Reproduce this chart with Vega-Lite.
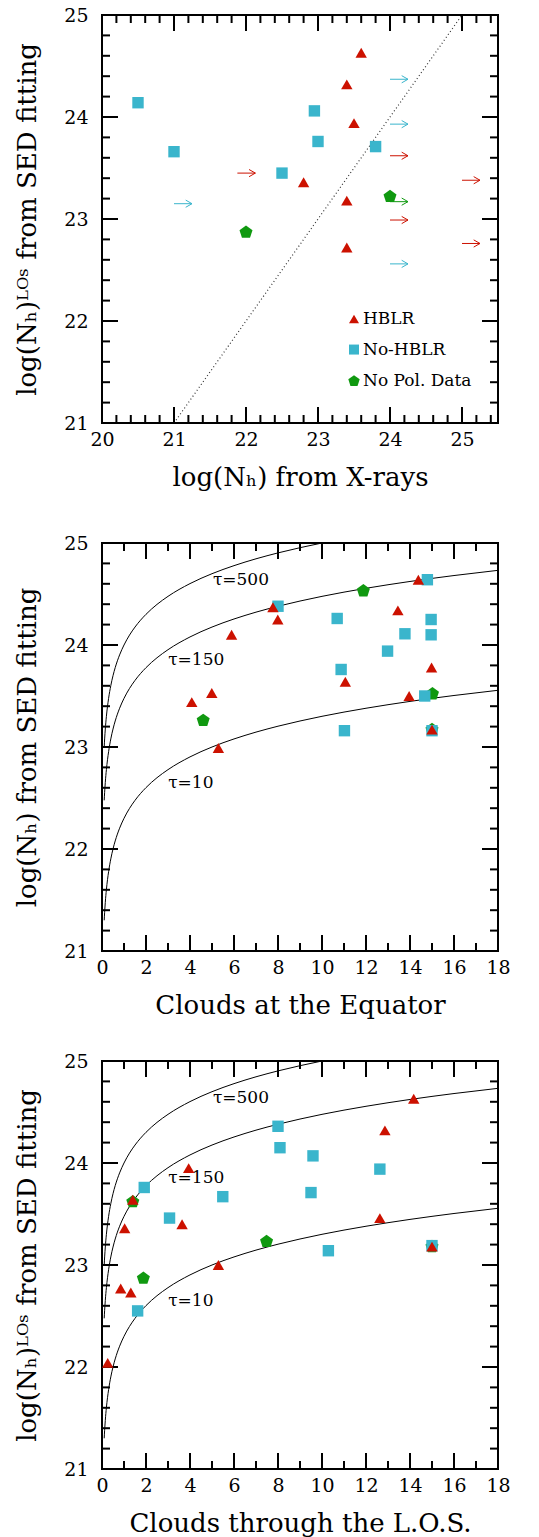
{
  "$schema": "https://vega.github.io/schema/vega-lite/v6.json",
  "background": "white",
  "padding": {"left": 13, "top": 5, "right": 20, "bottom": 5},
  "spacing": 42,
  "config": {
    "view": {"stroke": "#000", "strokeWidth": 2},
    "tick": {"thickness": 2, "opacity": 1, "color": "#000"},
    "axis": {"domain": false, "ticks": false, "grid": false, "labelFont": "DejaVu Serif", "labelFontSize": 19, "labelColor": "#000", "titleFont": "DejaVu Serif", "titleFontSize": 26, "titleFontWeight": "normal", "titleColor": "#000", "labelFlush": false, "labelOverlap": false, "labelBound": false}
  },
  "datasets": {
    "p1": [
      {"x": 22.0, "y": 22.87, "g": "No Pol. Data"},
      {"x": 24.0, "y": 23.22, "g": "No Pol. Data"},
      {"x": 20.5, "y": 24.14, "g": "No-HBLR"},
      {"x": 21.0, "y": 23.66, "g": "No-HBLR"},
      {"x": 22.5, "y": 23.45, "g": "No-HBLR"},
      {"x": 22.95, "y": 24.06, "g": "No-HBLR"},
      {"x": 23.0, "y": 23.76, "g": "No-HBLR"},
      {"x": 23.8, "y": 23.71, "g": "No-HBLR"},
      {"x": 23.6, "y": 24.63, "g": "HBLR"},
      {"x": 23.4, "y": 24.32, "g": "HBLR"},
      {"x": 23.5, "y": 23.94, "g": "HBLR"},
      {"x": 22.8, "y": 23.36, "g": "HBLR"},
      {"x": 23.4, "y": 23.18, "g": "HBLR"},
      {"x": 23.4, "y": 22.72, "g": "HBLR"}
    ],
    "legend1": [
      {"x": 23.5, "y": 22.02, "g": "HBLR"},
      {"x": 23.5, "y": 21.72, "g": "No-HBLR"},
      {"x": 23.5, "y": 21.41, "g": "No Pol. Data"}
    ],
    "arrows": [
      {"x": 24.0, "y": 24.37, "g": "No-HBLR"},
      {"x": 24.0, "y": 23.93, "g": "No-HBLR"},
      {"x": 21.0, "y": 23.15, "g": "No-HBLR"},
      {"x": 24.0, "y": 22.56, "g": "No-HBLR"},
      {"x": 24.0, "y": 23.62, "g": "HBLR"},
      {"x": 25.0, "y": 23.38, "g": "HBLR"},
      {"x": 24.0, "y": 22.99, "g": "HBLR"},
      {"x": 25.0, "y": 22.76, "g": "HBLR"},
      {"x": 21.88, "y": 23.45, "g": "HBLR"},
      {"x": 24.0, "y": 23.17, "g": "No Pol. Data"}
    ],
    "xt1maj": [{"v": 21}, {"v": 22}, {"v": 23}, {"v": 24}, {"v": 25}],
    "xt1min": [{"v": 20.2}, {"v": 20.4}, {"v": 20.6}, {"v": 20.8}, {"v": 21.2}, {"v": 21.4}, {"v": 21.6}, {"v": 21.8}, {"v": 22.2}, {"v": 22.4}, {"v": 22.6}, {"v": 22.8}, {"v": 23.2}, {"v": 23.4}, {"v": 23.6}, {"v": 23.8}, {"v": 24.2}, {"v": 24.4}, {"v": 24.6}, {"v": 24.8}, {"v": 25.2}, {"v": 25.4}],
    "ytmaj": [{"v": 22}, {"v": 23}, {"v": 24}],
    "ytmin": [{"v": 21.2}, {"v": 21.4}, {"v": 21.6}, {"v": 21.8}, {"v": 22.2}, {"v": 22.4}, {"v": 22.6}, {"v": 22.8}, {"v": 23.2}, {"v": 23.4}, {"v": 23.6}, {"v": 23.8}, {"v": 24.2}, {"v": 24.4}, {"v": 24.6}, {"v": 24.8}],
    "xt2maj": [{"v": 2}, {"v": 4}, {"v": 6}, {"v": 8}, {"v": 10}, {"v": 12}, {"v": 14}, {"v": 16}],
    "xt2min": [{"v": 1}, {"v": 3}, {"v": 5}, {"v": 7}, {"v": 9}, {"v": 11}, {"v": 13}, {"v": 15}, {"v": 17}],
    "p2": [
      {"x": 11.88, "y": 24.53, "g": "No Pol. Data"},
      {"x": 15.02, "y": 23.52, "g": "No Pol. Data"},
      {"x": 4.6, "y": 23.26, "g": "No Pol. Data"},
      {"x": 15.0, "y": 23.17, "g": "No Pol. Data"},
      {"x": 14.79, "y": 24.64, "g": "No-HBLR"},
      {"x": 8.0, "y": 24.38, "g": "No-HBLR"},
      {"x": 10.69, "y": 24.26, "g": "No-HBLR"},
      {"x": 14.96, "y": 24.25, "g": "No-HBLR"},
      {"x": 13.77, "y": 24.11, "g": "No-HBLR"},
      {"x": 14.96, "y": 24.10, "g": "No-HBLR"},
      {"x": 12.98, "y": 23.94, "g": "No-HBLR"},
      {"x": 10.87, "y": 23.76, "g": "No-HBLR"},
      {"x": 14.67, "y": 23.50, "g": "No-HBLR"},
      {"x": 11.02, "y": 23.16, "g": "No-HBLR"},
      {"x": 15.0, "y": 23.16, "g": "No-HBLR"},
      {"x": 14.38, "y": 24.64, "g": "HBLR"},
      {"x": 7.77, "y": 24.37, "g": "HBLR"},
      {"x": 7.99, "y": 24.25, "g": "HBLR"},
      {"x": 5.89, "y": 24.10, "g": "HBLR"},
      {"x": 13.45, "y": 24.34, "g": "HBLR"},
      {"x": 14.98, "y": 23.78, "g": "HBLR"},
      {"x": 11.06, "y": 23.64, "g": "HBLR"},
      {"x": 13.96, "y": 23.50, "g": "HBLR"},
      {"x": 4.99, "y": 23.53, "g": "HBLR"},
      {"x": 4.08, "y": 23.44, "g": "HBLR"},
      {"x": 5.29, "y": 22.99, "g": "HBLR"},
      {"x": 15.0, "y": 23.17, "g": "HBLR"}
    ],
    "p3": [
      {"x": 1.40, "y": 23.62, "g": "No Pol. Data"},
      {"x": 7.48, "y": 23.23, "g": "No Pol. Data"},
      {"x": 1.88, "y": 22.87, "g": "No Pol. Data"},
      {"x": 15.0, "y": 23.18, "g": "No Pol. Data"},
      {"x": 1.92, "y": 23.76, "g": "No-HBLR"},
      {"x": 3.07, "y": 23.46, "g": "No-HBLR"},
      {"x": 5.49, "y": 23.67, "g": "No-HBLR"},
      {"x": 8.0, "y": 24.36, "g": "No-HBLR"},
      {"x": 8.09, "y": 24.15, "g": "No-HBLR"},
      {"x": 9.59, "y": 24.07, "g": "No-HBLR"},
      {"x": 9.50, "y": 23.71, "g": "No-HBLR"},
      {"x": 12.63, "y": 23.94, "g": "No-HBLR"},
      {"x": 10.29, "y": 23.14, "g": "No-HBLR"},
      {"x": 15.0, "y": 23.19, "g": "No-HBLR"},
      {"x": 1.62, "y": 22.55, "g": "No-HBLR"},
      {"x": 14.17, "y": 24.63, "g": "HBLR"},
      {"x": 12.86, "y": 24.32, "g": "HBLR"},
      {"x": 3.94, "y": 23.95, "g": "HBLR"},
      {"x": 1.40, "y": 23.64, "g": "HBLR"},
      {"x": 3.64, "y": 23.40, "g": "HBLR"},
      {"x": 12.63, "y": 23.46, "g": "HBLR"},
      {"x": 1.03, "y": 23.36, "g": "HBLR"},
      {"x": 5.29, "y": 23.0, "g": "HBLR"},
      {"x": 15.0, "y": 23.18, "g": "HBLR"},
      {"x": 0.85, "y": 22.77, "g": "HBLR"},
      {"x": 1.31, "y": 22.73, "g": "HBLR"},
      {"x": 0.26, "y": 22.04, "g": "HBLR"}
    ],
    "curves": [
      {"n": 0.1, "v": 21.301, "tau": "10"}, {"n": 0.12, "v": 21.380, "tau": "10"}, {"n": 0.15, "v": 21.477, "tau": "10"}, {"n": 0.2, "v": 21.602, "tau": "10"}, {"n": 0.25, "v": 21.699, "tau": "10"}, {"n": 0.3, "v": 21.778, "tau": "10"}, {"n": 0.4, "v": 21.903, "tau": "10"}, {"n": 0.5, "v": 22.0, "tau": "10"}, {"n": 0.6, "v": 22.079, "tau": "10"}, {"n": 0.7, "v": 22.146, "tau": "10"}, {"n": 0.8, "v": 22.204, "tau": "10"}, {"n": 1, "v": 22.301, "tau": "10"}, {"n": 1.25, "v": 22.398, "tau": "10"}, {"n": 1.5, "v": 22.477, "tau": "10"}, {"n": 2, "v": 22.602, "tau": "10"}, {"n": 2.5, "v": 22.699, "tau": "10"}, {"n": 3, "v": 22.778, "tau": "10"}, {"n": 4, "v": 22.903, "tau": "10"}, {"n": 5, "v": 23.0, "tau": "10"}, {"n": 6, "v": 23.079, "tau": "10"}, {"n": 7, "v": 23.146, "tau": "10"}, {"n": 8, "v": 23.204, "tau": "10"}, {"n": 9, "v": 23.255, "tau": "10"}, {"n": 10, "v": 23.301, "tau": "10"}, {"n": 12, "v": 23.380, "tau": "10"}, {"n": 14, "v": 23.447, "tau": "10"}, {"n": 16, "v": 23.505, "tau": "10"}, {"n": 18, "v": 23.556, "tau": "10"},
      {"n": 0.1, "v": 22.477, "tau": "150"}, {"n": 0.12, "v": 22.556, "tau": "150"}, {"n": 0.15, "v": 22.653, "tau": "150"}, {"n": 0.2, "v": 22.778, "tau": "150"}, {"n": 0.25, "v": 22.875, "tau": "150"}, {"n": 0.3, "v": 22.954, "tau": "150"}, {"n": 0.4, "v": 23.079, "tau": "150"}, {"n": 0.5, "v": 23.176, "tau": "150"}, {"n": 0.6, "v": 23.255, "tau": "150"}, {"n": 0.7, "v": 23.322, "tau": "150"}, {"n": 0.8, "v": 23.380, "tau": "150"}, {"n": 1, "v": 23.477, "tau": "150"}, {"n": 1.25, "v": 23.574, "tau": "150"}, {"n": 1.5, "v": 23.653, "tau": "150"}, {"n": 2, "v": 23.778, "tau": "150"}, {"n": 2.5, "v": 23.875, "tau": "150"}, {"n": 3, "v": 23.954, "tau": "150"}, {"n": 4, "v": 24.079, "tau": "150"}, {"n": 5, "v": 24.176, "tau": "150"}, {"n": 6, "v": 24.255, "tau": "150"}, {"n": 7, "v": 24.322, "tau": "150"}, {"n": 8, "v": 24.380, "tau": "150"}, {"n": 9, "v": 24.431, "tau": "150"}, {"n": 10, "v": 24.477, "tau": "150"}, {"n": 12, "v": 24.556, "tau": "150"}, {"n": 14, "v": 24.623, "tau": "150"}, {"n": 16, "v": 24.681, "tau": "150"}, {"n": 18, "v": 24.732, "tau": "150"},
      {"n": 0.1, "v": 23.0, "tau": "500"}, {"n": 0.12, "v": 23.079, "tau": "500"}, {"n": 0.15, "v": 23.176, "tau": "500"}, {"n": 0.2, "v": 23.301, "tau": "500"}, {"n": 0.25, "v": 23.398, "tau": "500"}, {"n": 0.3, "v": 23.477, "tau": "500"}, {"n": 0.4, "v": 23.602, "tau": "500"}, {"n": 0.5, "v": 23.699, "tau": "500"}, {"n": 0.6, "v": 23.778, "tau": "500"}, {"n": 0.7, "v": 23.845, "tau": "500"}, {"n": 0.8, "v": 23.903, "tau": "500"}, {"n": 1, "v": 24.0, "tau": "500"}, {"n": 1.25, "v": 24.097, "tau": "500"}, {"n": 1.5, "v": 24.176, "tau": "500"}, {"n": 2, "v": 24.301, "tau": "500"}, {"n": 2.5, "v": 24.398, "tau": "500"}, {"n": 3, "v": 24.477, "tau": "500"}, {"n": 4, "v": 24.602, "tau": "500"}, {"n": 5, "v": 24.699, "tau": "500"}, {"n": 6, "v": 24.778, "tau": "500"}, {"n": 7, "v": 24.845, "tau": "500"}, {"n": 8, "v": 24.903, "tau": "500"}, {"n": 9, "v": 24.954, "tau": "500"}, {"n": 10, "v": 25.0, "tau": "500"}
    ],
    "taus": [
      {"n": 5.04, "v": 24.64, "t": "τ=500"},
      {"n": 3.01, "v": 23.85, "t": "τ=150"},
      {"n": 3.01, "v": 22.65, "t": "τ=10"}
    ]
  },
  "vconcat": [
    {
      "width": 396,
      "height": 408,
      "resolve": {"axis": {"x": "independent", "y": "independent"}},
      "encoding": {
        "x": {"type": "quantitative", "scale": {"domain": [20, 25.5], "nice": false, "zero": false}, "axis": null},
        "y": {"type": "quantitative", "scale": {"domain": [21, 25], "nice": false, "zero": false}, "axis": null}
      },
      "layer": [
        {
          "data": {"values": [{"a": 21, "b": 21}, {"a": 25, "b": 25}]},
          "mark": {"type": "line", "color": "#333", "strokeWidth": 1.2, "strokeDash": [1, 2.6], "clip": true},
          "encoding": {
            "x": {"field": "a", "type": "quantitative", "scale": {"domain": [20, 25.5], "nice": false, "zero": false},
              "axis": {"orient": "bottom", "values": [20, 21, 22, 23, 24, 25], "labelPadding": 7, "title": "log(Nₕ) from X-rays", "titlePadding": 15}},
            "y": {"field": "b", "type": "quantitative", "scale": {"domain": [21, 25], "nice": false, "zero": false},
              "axis": {"orient": "left", "values": [21, 22, 23, 24, 25], "labelPadding": 14, "title": "log(Nₕ)ᴸᴼˢ from SED fitting", "titlePadding": 23}}
          }
        },
        {"data": {"name": "xt1maj"}, "mark": {"type": "tick", "orient": "vertical", "size": 16, "yOffset": -8}, "encoding": {"x": {"field": "v"}, "y": {"datum": 21}}},
        {"data": {"name": "xt1min"}, "mark": {"type": "tick", "orient": "vertical", "size": 8, "yOffset": -4}, "encoding": {"x": {"field": "v"}, "y": {"datum": 21}}},
        {"data": {"name": "xt1maj"}, "mark": {"type": "tick", "orient": "vertical", "size": 16, "yOffset": 8}, "encoding": {"x": {"field": "v"}, "y": {"datum": 25}}},
        {"data": {"name": "xt1min"}, "mark": {"type": "tick", "orient": "vertical", "size": 8, "yOffset": 4}, "encoding": {"x": {"field": "v"}, "y": {"datum": 25}}},
        {"data": {"name": "ytmaj"}, "mark": {"type": "tick", "orient": "horizontal", "size": 16, "xOffset": 8}, "encoding": {"y": {"field": "v"}, "x": {"datum": 20}}},
        {"data": {"name": "ytmin"}, "mark": {"type": "tick", "orient": "horizontal", "size": 8, "xOffset": 4}, "encoding": {"y": {"field": "v"}, "x": {"datum": 20}}},
        {"data": {"name": "ytmaj"}, "mark": {"type": "tick", "orient": "horizontal", "size": 16, "xOffset": -8}, "encoding": {"y": {"field": "v"}, "x": {"datum": 25.5}}},
        {"data": {"name": "ytmin"}, "mark": {"type": "tick", "orient": "horizontal", "size": 8, "xOffset": -4}, "encoding": {"y": {"field": "v"}, "x": {"datum": 25.5}}},
        {
          "data": {"name": "arrows"},
          "mark": {"type": "point", "shape": "M0,0L2,0M1.3,-0.4L2,0L1.3,0.4", "filled": false, "size": 324, "strokeWidth": 1, "opacity": 1},
          "encoding": {
            "x": {"field": "x"},
            "y": {"field": "y"},
            "stroke": {"field": "g", "type": "nominal", "scale": {"domain": ["HBLR", "No-HBLR", "No Pol. Data"], "range": ["#cc1100", "#3ab5cc", "#109910"]}, "legend": null}
          }
        },
        {
          "data": {"name": "p1"},
          "mark": {"type": "point", "filled": true, "size": 130, "opacity": 1},
          "encoding": {
            "x": {"field": "x"},
            "y": {"field": "y"},
            "color": {"field": "g", "type": "nominal", "scale": {"domain": ["HBLR", "No-HBLR", "No Pol. Data"], "range": ["#cc1100", "#3ab5cc", "#109910"]}, "legend": null},
            "shape": {"field": "g", "type": "nominal", "scale": {"domain": ["HBLR", "No-HBLR", "No Pol. Data"], "range": ["triangle-up", "square", "M0,-1.2L1.141,-0.371L0.706,0.971L-0.706,0.971L-1.141,-0.371Z"]}, "legend": null}
          }
        },
        {
          "data": {"name": "legend1"},
          "mark": {"type": "point", "filled": true, "size": 100, "opacity": 1},
          "encoding": {
            "x": {"field": "x"},
            "y": {"field": "y"},
            "color": {"field": "g", "type": "nominal", "scale": {"domain": ["HBLR", "No-HBLR", "No Pol. Data"], "range": ["#cc1100", "#3ab5cc", "#109910"]}, "legend": null},
            "shape": {"field": "g", "type": "nominal", "scale": {"domain": ["HBLR", "No-HBLR", "No Pol. Data"], "range": ["triangle-up", "square", "M0,-1.2L1.141,-0.371L0.706,0.971L-0.706,0.971L-1.141,-0.371Z"]}, "legend": null}
          }
        },
        {
          "data": {"name": "legend1"},
          "mark": {"type": "text", "align": "left", "baseline": "middle", "dx": 9, "font": "DejaVu Serif", "fontSize": 17, "color": "#000"},
          "encoding": {
            "x": {"field": "x"},
            "y": {"field": "y"},
            "text": {"field": "g", "type": "nominal"}
          }
        }
      ]
    },
    {
      "spacing": 32,
      "vconcat": [
        {
          "width": 396,
          "height": 408,
          "resolve": {"axis": {"x": "independent", "y": "independent"}},
          "encoding": {
            "x": {"type": "quantitative", "scale": {"domain": [0, 18], "nice": false, "zero": false}, "axis": null},
            "y": {"type": "quantitative", "scale": {"domain": [21, 25], "nice": false, "zero": false}, "axis": null}
          },
          "layer": [
            {
              "data": {"name": "curves"},
              "mark": {"type": "line", "color": "#000", "strokeWidth": 1, "interpolate": "monotone", "clip": true},
              "encoding": {
                "x": {"field": "n", "type": "quantitative", "scale": {"domain": [0, 18], "nice": false, "zero": false},
                  "axis": {"orient": "bottom", "values": [0, 2, 4, 6, 8, 10, 12, 14, 16, 18], "labelPadding": 7, "title": "Clouds at the Equator", "titlePadding": 15}},
                "y": {"field": "v", "type": "quantitative", "scale": {"domain": [21, 25], "nice": false, "zero": false},
                  "axis": {"orient": "left", "values": [21, 22, 23, 24, 25], "labelPadding": 14, "title": "log(Nₕ) from SED fitting", "titlePadding": 23}},
                "detail": {"field": "tau", "type": "nominal"}
              }
            },
            {"data": {"name": "xt2maj"}, "mark": {"type": "tick", "orient": "vertical", "size": 16, "yOffset": -8}, "encoding": {"x": {"field": "v"}, "y": {"datum": 21}}},
            {"data": {"name": "xt2min"}, "mark": {"type": "tick", "orient": "vertical", "size": 8, "yOffset": -4}, "encoding": {"x": {"field": "v"}, "y": {"datum": 21}}},
            {"data": {"name": "xt2maj"}, "mark": {"type": "tick", "orient": "vertical", "size": 16, "yOffset": 8}, "encoding": {"x": {"field": "v"}, "y": {"datum": 25}}},
            {"data": {"name": "xt2min"}, "mark": {"type": "tick", "orient": "vertical", "size": 8, "yOffset": 4}, "encoding": {"x": {"field": "v"}, "y": {"datum": 25}}},
            {"data": {"name": "ytmaj"}, "mark": {"type": "tick", "orient": "horizontal", "size": 16, "xOffset": 8}, "encoding": {"y": {"field": "v"}, "x": {"datum": 0}}},
            {"data": {"name": "ytmin"}, "mark": {"type": "tick", "orient": "horizontal", "size": 8, "xOffset": 4}, "encoding": {"y": {"field": "v"}, "x": {"datum": 0}}},
            {"data": {"name": "ytmaj"}, "mark": {"type": "tick", "orient": "horizontal", "size": 16, "xOffset": -8}, "encoding": {"y": {"field": "v"}, "x": {"datum": 18}}},
            {"data": {"name": "ytmin"}, "mark": {"type": "tick", "orient": "horizontal", "size": 8, "xOffset": -4}, "encoding": {"y": {"field": "v"}, "x": {"datum": 18}}},
            {
              "data": {"name": "taus"},
              "mark": {"type": "text", "align": "left", "baseline": "middle", "font": "DejaVu Serif", "fontSize": 17, "color": "#000"},
              "encoding": {"x": {"field": "n"}, "y": {"field": "v"}, "text": {"field": "t", "type": "nominal"}}
            },
            {
              "data": {"name": "p2"},
              "mark": {"type": "point", "filled": true, "size": 130, "opacity": 1},
              "encoding": {
                "x": {"field": "x"},
                "y": {"field": "y"},
                "color": {"field": "g", "type": "nominal", "scale": {"domain": ["HBLR", "No-HBLR", "No Pol. Data"], "range": ["#cc1100", "#3ab5cc", "#109910"]}, "legend": null},
                "shape": {"field": "g", "type": "nominal", "scale": {"domain": ["HBLR", "No-HBLR", "No Pol. Data"], "range": ["triangle-up", "square", "M0,-1.2L1.141,-0.371L0.706,0.971L-0.706,0.971L-1.141,-0.371Z"]}, "legend": null}
              }
            }
          ]
        },
        {
          "width": 396,
          "height": 408,
          "resolve": {"axis": {"x": "independent", "y": "independent"}},
          "encoding": {
            "x": {"type": "quantitative", "scale": {"domain": [0, 18], "nice": false, "zero": false}, "axis": null},
            "y": {"type": "quantitative", "scale": {"domain": [21, 25], "nice": false, "zero": false}, "axis": null}
          },
          "layer": [
            {
              "data": {"name": "curves"},
              "mark": {"type": "line", "color": "#000", "strokeWidth": 1, "interpolate": "monotone", "clip": true},
              "encoding": {
                "x": {"field": "n", "type": "quantitative", "scale": {"domain": [0, 18], "nice": false, "zero": false},
                  "axis": {"orient": "bottom", "values": [0, 2, 4, 6, 8, 10, 12, 14, 16, 18], "labelPadding": 7, "title": "Clouds through the L.O.S.", "titlePadding": 15}},
                "y": {"field": "v", "type": "quantitative", "scale": {"domain": [21, 25], "nice": false, "zero": false},
                  "axis": {"orient": "left", "values": [21, 22, 23, 24, 25], "labelPadding": 14, "title": "log(Nₕ)ᴸᴼˢ from SED fitting", "titlePadding": 23}},
                "detail": {"field": "tau", "type": "nominal"}
              }
            },
            {"data": {"name": "xt2maj"}, "mark": {"type": "tick", "orient": "vertical", "size": 16, "yOffset": -8}, "encoding": {"x": {"field": "v"}, "y": {"datum": 21}}},
            {"data": {"name": "xt2min"}, "mark": {"type": "tick", "orient": "vertical", "size": 8, "yOffset": -4}, "encoding": {"x": {"field": "v"}, "y": {"datum": 21}}},
            {"data": {"name": "xt2maj"}, "mark": {"type": "tick", "orient": "vertical", "size": 16, "yOffset": 8}, "encoding": {"x": {"field": "v"}, "y": {"datum": 25}}},
            {"data": {"name": "xt2min"}, "mark": {"type": "tick", "orient": "vertical", "size": 8, "yOffset": 4}, "encoding": {"x": {"field": "v"}, "y": {"datum": 25}}},
            {"data": {"name": "ytmaj"}, "mark": {"type": "tick", "orient": "horizontal", "size": 16, "xOffset": 8}, "encoding": {"y": {"field": "v"}, "x": {"datum": 0}}},
            {"data": {"name": "ytmin"}, "mark": {"type": "tick", "orient": "horizontal", "size": 8, "xOffset": 4}, "encoding": {"y": {"field": "v"}, "x": {"datum": 0}}},
            {"data": {"name": "ytmaj"}, "mark": {"type": "tick", "orient": "horizontal", "size": 16, "xOffset": -8}, "encoding": {"y": {"field": "v"}, "x": {"datum": 18}}},
            {"data": {"name": "ytmin"}, "mark": {"type": "tick", "orient": "horizontal", "size": 8, "xOffset": -4}, "encoding": {"y": {"field": "v"}, "x": {"datum": 18}}},
            {
              "data": {"name": "taus"},
              "mark": {"type": "text", "align": "left", "baseline": "middle", "font": "DejaVu Serif", "fontSize": 17, "color": "#000"},
              "encoding": {"x": {"field": "n"}, "y": {"field": "v"}, "text": {"field": "t", "type": "nominal"}}
            },
            {
              "data": {"name": "p3"},
              "mark": {"type": "point", "filled": true, "size": 130, "opacity": 1},
              "encoding": {
                "x": {"field": "x"},
                "y": {"field": "y"},
                "color": {"field": "g", "type": "nominal", "scale": {"domain": ["HBLR", "No-HBLR", "No Pol. Data"], "range": ["#cc1100", "#3ab5cc", "#109910"]}, "legend": null},
                "shape": {"field": "g", "type": "nominal", "scale": {"domain": ["HBLR", "No-HBLR", "No Pol. Data"], "range": ["triangle-up", "square", "M0,-1.2L1.141,-0.371L0.706,0.971L-0.706,0.971L-1.141,-0.371Z"]}, "legend": null}
              }
            }
          ]
        }
      ]
    }
  ]
}
